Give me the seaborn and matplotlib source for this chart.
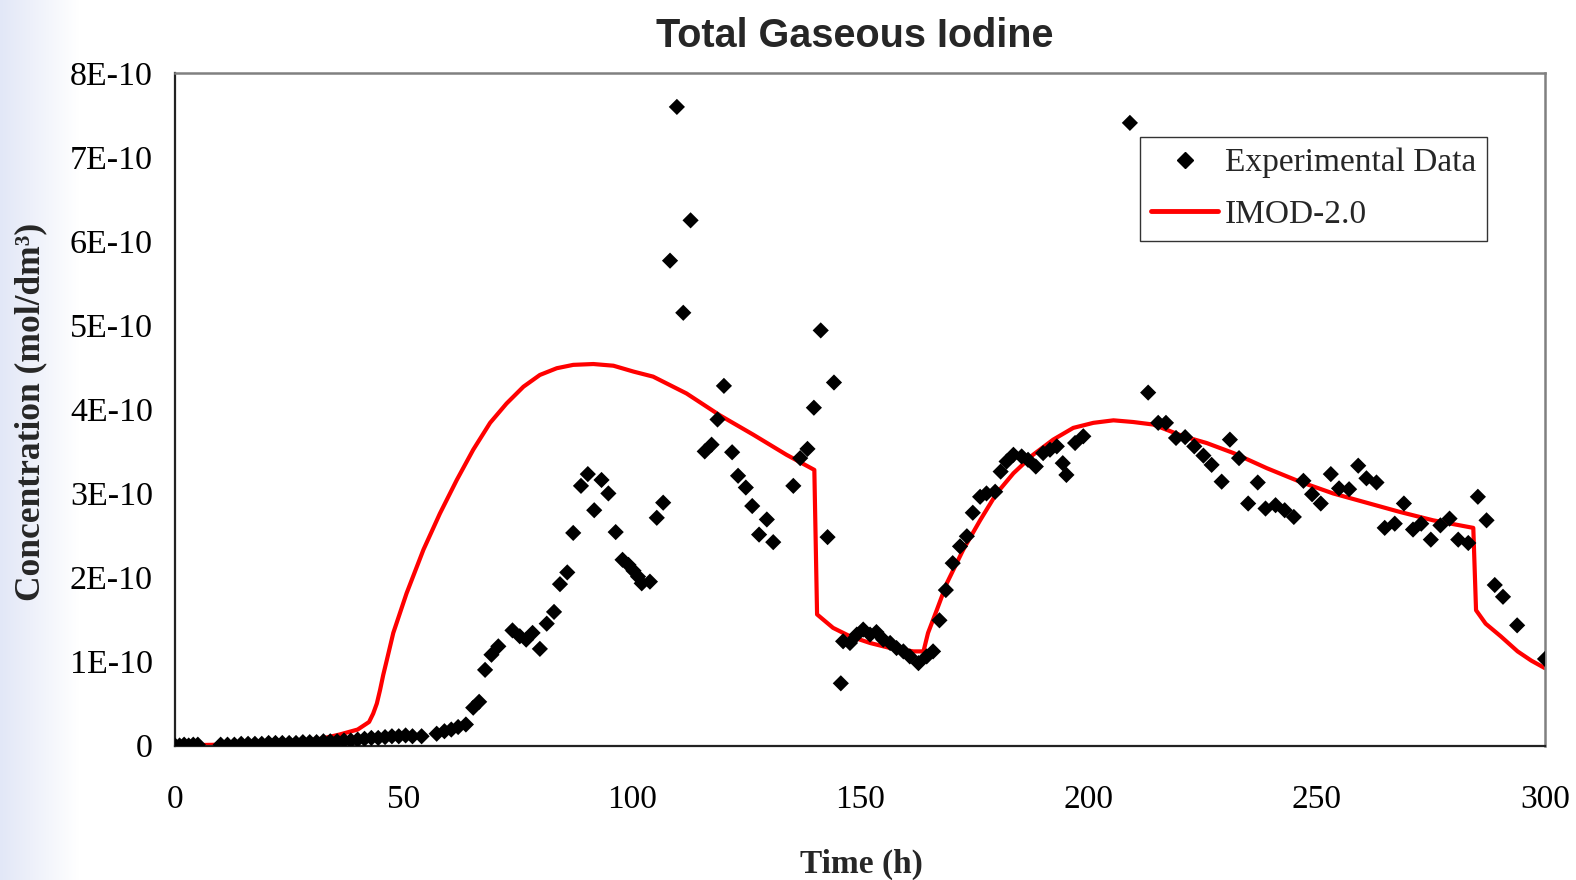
import numpy as np
import pandas as pd
import matplotlib
matplotlib.use("Agg")
import matplotlib.pyplot as plt
from matplotlib import font_manager
from matplotlib.lines import Line2D
from matplotlib.colors import LinearSegmentedColormap
import seaborn as sns

# ---------------- data (concentration in units of 1E-10 mol/dm3) ----------------
exp_time = [0, 1, 2, 3, 4, 5,
            10, 11.5, 13, 14.5, 16, 17.5, 19, 20.5, 22, 23.5, 25, 26.5, 28, 29.5,
            31, 32.5, 34, 35.5, 37, 38.5, 40, 41.5, 43, 44.5, 46, 47.5, 49, 50.5, 52,
            54.0, 57.3, 59.0, 60.5, 62.0, 63.7, 65.3, 66.6, 67.9, 69.3, 70.8, 73.9,
            75.5, 76.9, 78.3, 79.9, 81.4, 83.0, 84.3, 85.9, 87.2, 88.9, 90.4, 91.8,
            93.4, 94.9, 96.5, 98.0, 99.3, 100.4, 101.4, 102.2, 104.0, 105.5, 106.9,
            108.4, 109.9, 111.3, 112.9, 116.0, 117.5, 118.8, 120.2, 122.0, 123.3,
            125.0, 126.4, 127.9, 129.6, 131.0, 135.4, 136.9, 138.5, 139.9, 141.4,
            142.9, 144.3, 145.8, 146.3, 147.8, 149.3, 150.7, 152.2, 153.6, 155.1,
            156.6, 158.0, 159.5, 160.9, 162.8, 164.6, 166.0, 167.4, 168.8, 170.3,
            171.9, 173.4, 174.7, 176.3, 177.7, 179.6, 180.8, 182.1, 183.6, 185.4,
            186.8, 188.5, 190.1, 191.6, 193.1, 194.4, 195.2, 197.1, 198.9, 209.1,
            213.1, 215.3, 217.0, 219.2, 221.2, 223.2, 225.2, 227.0, 229.2, 231.0,
            233.0, 235.0, 237.1, 238.8, 241.0, 243.0, 245.0, 247.1, 249.0, 250.9,
            253.1, 254.9, 257.1, 259.1, 260.9, 263.1, 264.9, 267.1, 269.1, 271.1,
            272.9, 275.0, 277.1, 279.1, 281.0, 283.2, 285.3, 287.2, 289.0, 290.8,
            293.9, 300.0]
exp_conc = [0.00, 0.00, 0.01, 0.00, 0.01, 0.01,
            0.01, 0.01, 0.01, 0.02, 0.02, 0.02, 0.02, 0.03, 0.03, 0.03, 0.03, 0.03, 0.04, 0.04,
            0.04, 0.05, 0.05, 0.05, 0.06, 0.06, 0.07, 0.08, 0.09, 0.09, 0.10, 0.11, 0.11, 0.12, 0.11,
            0.11, 0.14, 0.17, 0.19, 0.22, 0.25, 0.45, 0.52, 0.90, 1.08, 1.18, 1.37,
            1.30, 1.26, 1.34, 1.15, 1.45, 1.59, 1.92, 2.06, 2.53, 3.09, 3.23, 2.80,
            3.16, 3.00, 2.54, 2.21, 2.15, 2.08, 2.01, 1.93, 1.95, 2.71, 2.89,
            5.77, 7.60, 5.15, 6.25, 3.50, 3.58, 3.88, 4.28, 3.49, 3.21,
            3.07, 2.85, 2.51, 2.69, 2.42, 3.09, 3.42, 3.53, 4.02, 4.94,
            2.48, 4.32, 0.74, 1.24, 1.22, 1.32, 1.38, 1.32, 1.35, 1.26,
            1.22, 1.16, 1.12, 1.06, 0.98, 1.06, 1.12, 1.49, 1.85, 2.17,
            2.37, 2.49, 2.77, 2.96, 3.00, 3.02, 3.26, 3.38, 3.46, 3.44,
            3.40, 3.32, 3.48, 3.52, 3.56, 3.36, 3.22, 3.60, 3.68, 7.41,
            4.20, 3.84, 3.84, 3.66, 3.67, 3.56, 3.45, 3.34, 3.14, 3.64,
            3.42, 2.88, 3.13, 2.82, 2.86, 2.80, 2.72, 3.15, 2.99, 2.88,
            3.23, 3.06, 3.05, 3.33, 3.18, 3.13, 2.59, 2.64, 2.88, 2.57,
            2.64, 2.45, 2.62, 2.70, 2.45, 2.41, 2.96, 2.68, 1.91, 1.77,
            1.43, 1.03]

model_time = [0, 10, 20, 28, 32, 36, 40, 42.5, 43.4, 44.2, 44.9, 45.6, 46.4, 47.8,
              50.7, 54.4, 58.0, 61.7, 65.3, 69.0, 72.6, 76.3, 79.9, 83.6, 87.2, 91.6,
              96.0, 100.4, 104.7, 112.0, 119.3, 126.6, 133.9, 140.0, 140.6, 144.1,
              147.8, 152.2, 156.6, 161.7, 163.9, 164.9, 166.8, 169.0, 172.6, 176.3,
              179.9, 183.6, 187.9, 192.3, 196.7, 201.1, 205.5, 209.8, 214.2, 220.8,
              225.9, 231.8, 239.1, 246.3, 253.6, 260.9, 268.2, 275.5, 284.3, 284.9,
              287.0, 290.3, 294.0, 297.0, 300.0]
model_conc = [0.00, 0.01, 0.02, 0.05, 0.08, 0.13, 0.19, 0.28, 0.38, 0.50, 0.66, 0.84, 1.02, 1.34,
              1.81, 2.33, 2.76, 3.16, 3.52, 3.84, 4.07, 4.27, 4.41, 4.49, 4.53, 4.54,
              4.52, 4.45, 4.39, 4.19, 3.93, 3.70, 3.46, 3.28, 1.56, 1.40,
              1.30, 1.22, 1.16, 1.12, 1.12, 1.34, 1.61, 1.93, 2.33, 2.68,
              3.00, 3.24, 3.46, 3.64, 3.78, 3.84, 3.87, 3.85, 3.82, 3.68,
              3.60, 3.48, 3.30, 3.14, 3.00, 2.89, 2.78, 2.68, 2.59, 1.61,
              1.45, 1.30, 1.12, 1.01, 0.92]

y_ticks = [0, 1, 2, 3, 4, 5, 6, 7, 8]
y_tick_labels = ["0", "1E-10", "2E-10", "3E-10", "4E-10", "5E-10", "6E-10", "7E-10", "8E-10"]
x_ticks = [0, 50, 100, 150, 200, 250, 300]
x_tick_labels = ["0", "50", "100", "150", "200", "250", "300"]

exp_df = pd.DataFrame({"Time": exp_time, "Conc": exp_conc})
model_df = pd.DataFrame({"Time": model_time, "Conc": model_conc})

# ---------------- style ----------------
sns.set_theme(style="white")
serif = ["Liberation Serif", "DejaVu Serif"]
plt.rcParams["font.family"] = serif

names = {f.name for f in font_manager.fontManager.ttflist}
if "Liberation Sans Narrow" in names:
    title_family, title_size = ["Liberation Sans Narrow", "DejaVu Sans"], 34
else:
    title_family, title_size = ["Liberation Sans", "DejaVu Sans"], 28.5

fig = plt.figure(figsize=(15.76, 8.80), dpi=100)
fig.patch.set_facecolor("white")

# light slide background on the left edge
bg = fig.add_axes([0, 0, 0.05, 1], zorder=-10)
grad = np.linspace(0, 1, 256)[None, :]
cmap = LinearSegmentedColormap.from_list("bg", ["#e2e7f7", "#ffffff"])
bg.imshow(grad, aspect="auto", cmap=cmap, extent=[0, 1, 0, 1])
bg.set_axis_off()

ax = fig.add_axes([175 / 1576, 1 - 745.5 / 880, 1370 / 1576, 672.2 / 880])
ax.set_facecolor("white")

sns.lineplot(data=model_df, x="Time", y="Conc", ax=ax, color="#ff0000",
             linewidth=3.0, sort=False, estimator=None, zorder=2, legend=False)
sns.scatterplot(data=exp_df, x="Time", y="Conc", ax=ax, marker="D", s=68,
                color="black", edgecolor="none", linewidth=0, zorder=3, legend=False)

ax.set_xlim(0, 300)
ax.set_ylim(0, 8)
ax.set_xticks(x_ticks)
ax.set_xticklabels(x_tick_labels)
ax.set_yticks(y_ticks)
ax.set_yticklabels(y_tick_labels)
ax.tick_params(axis="both", direction="inout", length=14, width=1.2, color="black",
               labelcolor="black")
ax.tick_params(axis="x", pad=21, labelsize=24)
ax.tick_params(axis="y", pad=9, labelsize=24.5)
for lab in ax.get_xticklabels() + ax.get_yticklabels():
    lab.set_family(serif)

for side in ["left", "bottom"]:
    ax.spines[side].set_color("#222222")
    ax.spines[side].set_linewidth(1.6)
for side in ["top", "right"]:
    ax.spines[side].set_color("#808080")
    ax.spines[side].set_linewidth(1.8)

ax.set_xlabel("Time (h)", fontsize=24, fontweight="bold", family=serif)
ax.set_ylabel("Concentration (mol/dm\u00b3)", fontsize=25.5, fontweight="bold", family=serif)
ax.xaxis.set_label_coords(0.5007, -0.154)
ax.yaxis.set_label_coords(-0.0934, 0.496)

fig.text(0.5425, 0.959, "Total Gaseous Iodine", ha="center", va="center",
         fontsize=title_size, fontweight="bold", family=title_family)

handles = [Line2D([], [], linestyle="none", marker="D", markersize=8.5, color="black"),
           Line2D([], [], color="#ff0000", linewidth=3.5)]
leg = ax.legend(handles, ["Experimental Data", "IMOD-2.0"], loc="upper right",
                bbox_to_anchor=(0.9577, 0.9053), borderaxespad=0, frameon=True,
                fancybox=False, shadow=False, prop={"family": serif, "size": 24},
                labelspacing=0.62, borderpad=0.33, handletextpad=0.2, handlelength=2.0)
leg.get_frame().set_edgecolor("#333333")
leg.get_frame().set_linewidth(1.0)
leg.get_frame().set_facecolor("white")
leg.get_frame().set_alpha(1)

fig.savefig("out.png", dpi=100)
